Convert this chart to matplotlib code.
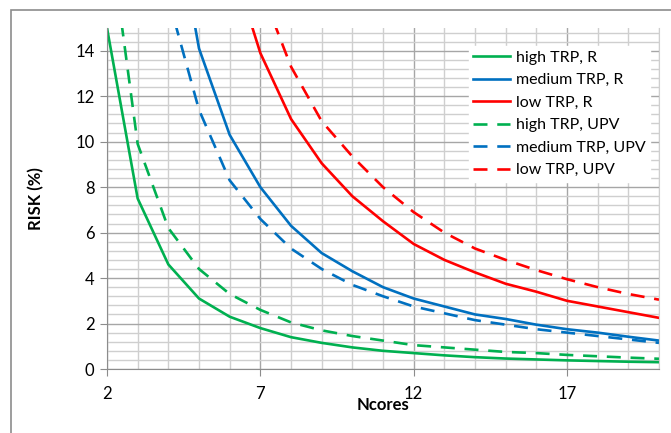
import matplotlib.pyplot as plt
from matplotlib.patches import Rectangle
from matplotlib.ticker import MultipleLocator

plt.rcParams['font.family'] = ['Lato', 'DejaVu Sans']

# number of cores
ncores = list(range(2, 21))

# risk values (%); first points run above the axis and get clipped
high_r = [15.0, 7.5, 4.6, 3.1, 2.3, 1.8, 1.4, 1.15, 0.95, 0.8, 0.7, 0.6, 0.52, 0.46, 0.42, 0.38, 0.35, 0.32, 0.3]
medium_r = [40.0, 30.0, 21.6, 14.1, 10.3, 8.0, 6.3, 5.1, 4.3, 3.6, 3.1, 2.75, 2.4, 2.2, 1.95, 1.75, 1.6, 1.42, 1.25]
low_r = [60.0, 45.0, 35.0, 25.0, 18.2, 13.9, 11.0, 9.05, 7.6, 6.5, 5.5, 4.8, 4.25, 3.75, 3.4, 3.0, 2.75, 2.5, 2.25]
high_upv = [20.0, 9.9, 6.2, 4.4, 3.3, 2.6, 2.05, 1.7, 1.45, 1.25, 1.05, 0.95, 0.85, 0.75, 0.7, 0.62, 0.56, 0.5, 0.45]
medium_upv = [30.0, 22.0, 16.3, 11.4, 8.3, 6.6, 5.3, 4.4, 3.7, 3.2, 2.75, 2.45, 2.15, 1.95, 1.75, 1.6, 1.45, 1.3, 1.15]
low_upv = [70.0, 50.0, 38.0, 28.0, 22.0, 16.8, 13.3, 10.9, 9.35, 8.0, 6.9, 6.0, 5.3, 4.8, 4.35, 3.95, 3.6, 3.3, 3.05]

labels = ["high TRP, R", "medium TRP, R", "low TRP, R",
          "high TRP, UPV", "medium TRP, UPV", "low TRP, UPV"]

green, blue, red = "#00B050", "#0070C0", "#FF0000"

fig = plt.figure(figsize=(6.71, 4.33), dpi=100)
# outer chart frame (runs off the right / bottom edge)
fig.patches.append(Rectangle((11 / 671, -0.1), 1.2, 1 - 10 / 433 + 0.1,
                             transform=fig.transFigure, fill=False,
                             edgecolor="#8c8c8c", linewidth=1.2))

ax = fig.add_axes([107 / 671, 1 - 369 / 433, 552 / 671, 341 / 433])

lw = 1.9
dash = (0, (5.3, 3.7))
ax.plot(ncores, high_r, color=green, lw=lw, label=labels[0])
ax.plot(ncores, medium_r, color=blue, lw=lw, label=labels[1])
ax.plot(ncores, low_r, color=red, lw=lw, label=labels[2])
ax.plot(ncores, high_upv, color=green, lw=lw, ls=dash, label=labels[3])
ax.plot(ncores, medium_upv, color=blue, lw=lw, ls=dash, label=labels[4])
ax.plot(ncores, low_upv, color=red, lw=lw, ls=dash, label=labels[5])

ax.set_xlim(2, 20)
ax.set_ylim(0, 15)
ax.xaxis.set_major_locator(MultipleLocator(5, offset=2))
ax.xaxis.set_minor_locator(MultipleLocator(1))
ax.yaxis.set_major_locator(MultipleLocator(2))
ax.yaxis.set_minor_locator(MultipleLocator(0.4))

ax.grid(which="major", color="#a6a6a6", linewidth=1.0)
ax.grid(which="minor", color="#cfcfcf", linewidth=1.0)
ax.set_axisbelow(True)

ax.spines["top"].set_visible(False)
ax.spines["right"].set_color("#cfcfcf")
ax.spines["left"].set_color("#8c8c8c")
ax.spines["bottom"].set_color("#8c8c8c")
ax.tick_params(which="major", length=5, color="#8c8c8c", labelsize=12)
ax.tick_params(which="minor", length=0)
ax.tick_params(axis="x", pad=7)
ax.tick_params(axis="y", pad=4)

ax.set_xlabel("Ncores", fontsize=12, fontweight="bold", labelpad=-3)
ax.set_ylabel("RISK (%)", fontsize=12, fontweight="bold", labelpad=22)

leg = ax.legend(loc="upper right", bbox_to_anchor=(0.984, 0.948), fontsize=11.5,
                frameon=True, fancybox=False, framealpha=1, edgecolor="white",
                handlelength=2.3, handletextpad=0.35, labelspacing=0.52,
                borderpad=0.3, borderaxespad=0)

plt.savefig("out.png", dpi=100)
